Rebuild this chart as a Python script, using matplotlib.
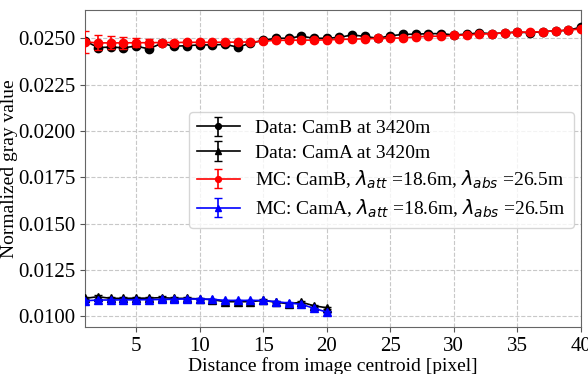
import matplotlib
matplotlib.use("Agg")
import matplotlib.pyplot as plt
import numpy as np

x_b = list(range(1, 41))
data_camB = [0.02485, 0.02450, 0.02452, 0.02449, 0.02457, 0.02443, 0.02472, 0.02457, 0.02460, 0.02464,
             0.02464, 0.02467, 0.02452, 0.02473, 0.02489, 0.02500, 0.02500, 0.02511, 0.02500, 0.02500,
             0.02505, 0.02518, 0.02510, 0.02500, 0.02513, 0.02521, 0.02522, 0.02525, 0.02525, 0.02518,
             0.02522, 0.02529, 0.02525, 0.02529, 0.02533, 0.02530, 0.02536, 0.02540, 0.02543, 0.02560]
data_camB_err = [0.00005] * 40
mc_camB = [0.02480, 0.02475, 0.02475, 0.02475, 0.02476, 0.02476, 0.02477, 0.02477, 0.02478, 0.02478,
           0.02478, 0.02479, 0.02479, 0.02480, 0.02484, 0.02489, 0.02489, 0.02490, 0.02490, 0.02491,
           0.02494, 0.02495, 0.02497, 0.02499, 0.02500, 0.02502, 0.02507, 0.02511, 0.02511, 0.02515,
           0.02518, 0.02522, 0.02525, 0.02529, 0.02533, 0.02533, 0.02536, 0.02540, 0.02543, 0.02551]
mc_camB_err = [0.00058, 0.00040, 0.00035, 0.00033, 0.00025, 0.00022, 0.00012, 0.00010, 0.00010, 0.00010,
               0.00008, 0.00008, 0.00008, 0.00008, 0.00008, 0.00008, 0.00008, 0.00008, 0.00008, 0.00008,
               0.00006, 0.00006, 0.00006, 0.00006, 0.00006, 0.00006, 0.00006, 0.00006, 0.00006, 0.00006,
               0.00006, 0.00006, 0.00006, 0.00006, 0.00006, 0.00006, 0.00006, 0.00006, 0.00006, 0.00006]

x_a = list(range(1, 21))
data_camA = [0.01096, 0.01105, 0.01096, 0.01096, 0.01097, 0.01097, 0.01100, 0.01096, 0.01096, 0.01093,
             0.01089, 0.01078, 0.01078, 0.01078, 0.01085, 0.01075, 0.01067, 0.01075, 0.01056, 0.01045]
data_camA_err = [0.00006, 0.00010, 0.00005, 0.00005, 0.00005, 0.00005, 0.00006, 0.00005, 0.00005, 0.00005,
                 0.00005, 0.00005, 0.00005, 0.00005, 0.00005, 0.00005, 0.00005, 0.00005, 0.00005, 0.00005]
mc_camA = [0.01083, 0.01087, 0.01087, 0.01088, 0.01088, 0.01089, 0.01090, 0.01091, 0.01093, 0.01092,
           0.01091, 0.01085, 0.01085, 0.01085, 0.01085, 0.01078, 0.01071, 0.01064, 0.01042, 0.01022]
mc_camA_err = [0.00004] * 20

plt.rcParams['font.family'] = ['Liberation Serif', 'DejaVu Serif']
plt.rcParams['mathtext.fontset'] = 'dejavusans'

fig = plt.figure(figsize=(5.88, 3.74), dpi=100)
ax = fig.add_axes([0.145, 0.125, 0.843, 0.848])

ms = 6
ax.errorbar(x_b, data_camB, yerr=data_camB_err, color='black', marker='o', ms=ms, capsize=3,
            lw=1.2, label='Data: CamB at 3420m', zorder=3)
ax.errorbar(x_a, data_camA, yerr=data_camA_err, color='black', marker='^', ms=ms, capsize=3,
            lw=1.2, label='Data: CamA at 3420m', zorder=3)
ax.errorbar(x_b, mc_camB, yerr=mc_camB_err, color='red', marker='o', ms=ms, capsize=3,
            lw=1.2, label=r'MC: CamB, $\lambda_{att}$ =18.6m, $\lambda_{abs}$ =26.5m', zorder=4)
ax.errorbar(x_a, mc_camA, yerr=mc_camA_err, color='blue', marker='^', ms=ms, capsize=3,
            lw=1.2, label=r'MC: CamA, $\lambda_{att}$ =18.6m, $\lambda_{abs}$ =26.5m', zorder=4)

ax.set_xlim(1, 40)
ax.set_ylim(0.0094, 0.02652)
ax.set_xticks([5, 10, 15, 20, 25, 30, 35, 40])
ax.set_yticks([0.0100, 0.0125, 0.0150, 0.0175, 0.0200, 0.0225, 0.0250])
ax.set_yticklabels(['0.0100', '0.0125', '0.0150', '0.0175', '0.0200', '0.0225', '0.0250'])
ax.tick_params(labelsize=15, color='#555555')
ax.grid(True, linestyle='--', color='#c8c8c8', lw=0.8)
for s in ax.spines.values():
    s.set_color('#666666')
ax.set_xlabel('Distance from image centroid [pixel]', fontsize=14, labelpad=1)
ax.set_ylabel('Normalized gray value', fontsize=14)
ax.yaxis.set_label_coords(-0.135, 0.5)

ax.legend(loc='upper left', bbox_to_anchor=(0.19, 0.71), fontsize=14, handlelength=2.2,
          borderpad=0.4, labelspacing=0.35, markerscale=0.7, framealpha=0.8)

fig.savefig('out.png', dpi=100)
